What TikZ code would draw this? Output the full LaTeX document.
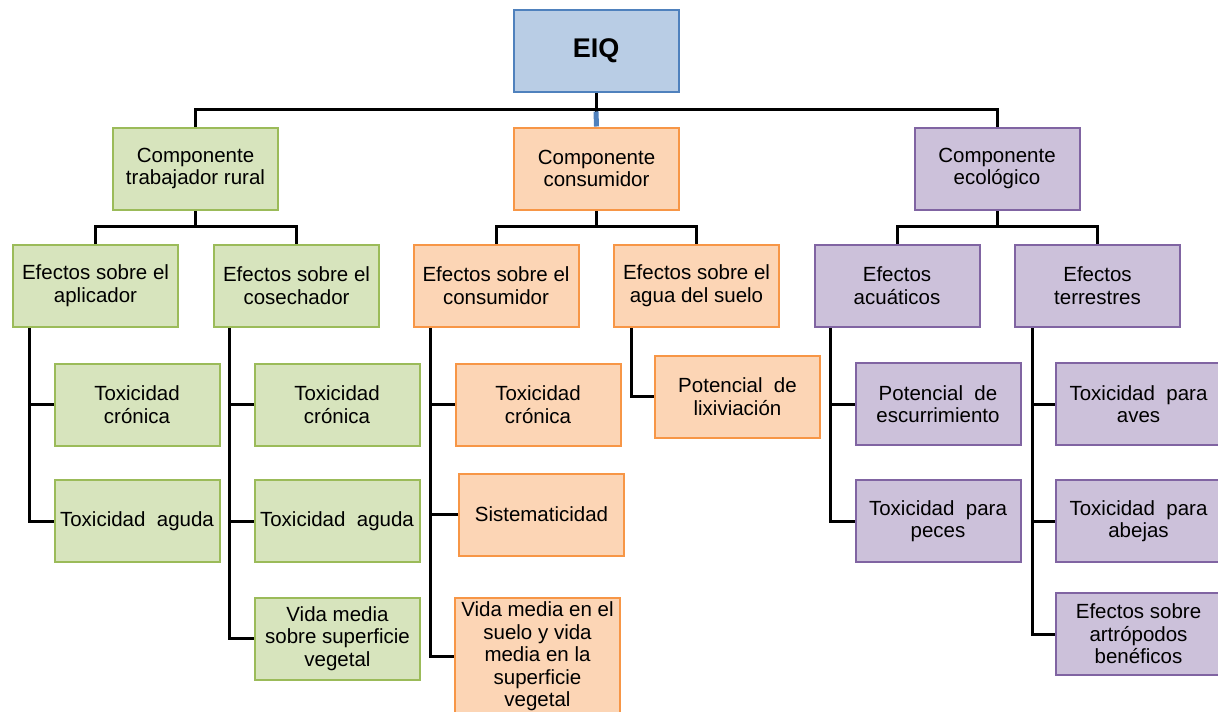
\documentclass[tikz,border=0pt]{standalone}
\usepackage{fontspec}
\setmainfont{Liberation Sans}
\usetikzlibrary{backgrounds}
\definecolor{gfill}{HTML}{D7E4BD}
\definecolor{gdraw}{HTML}{9BBB59}
\definecolor{ofill}{HTML}{FCD5B5}
\definecolor{odraw}{HTML}{F79646}
\definecolor{pfill}{HTML}{CCC1DA}
\definecolor{pdraw}{HTML}{8064A2}
\definecolor{bfill}{HTML}{B9CDE5}
\definecolor{bdraw}{HTML}{4F81BD}
\begin{document}
\begin{tikzpicture}[x=1pt,y=-1pt,
  box/.style={draw, line width=2pt, minimum width=165pt, minimum height=82pt, inner sep=0pt, align=center,
    font=\fontsize{20.5}{22.5}\selectfont},
  gbox/.style={box, fill=gfill, draw=gdraw},
  obox/.style={box, fill=ofill, draw=odraw},
  pbox/.style={box, fill=pfill, draw=pdraw},
  bbox/.style={box, fill=bfill, draw=bdraw, font=\fontsize{27}{30}\selectfont\bfseries},
  conn/.style={draw=black, line width=3pt},
  bconn/.style={draw=bdraw, line width=5pt}]
\useasboundingbox (0,0) rectangle (1218,712);

% nodes
\node[bbox] (eiq) at (596,50.5) {EIQ};

\node[gbox] (g) at (195.5,168.5) {Componente\\trabajador rural};
\node[obox] (o) at (596.5,168.5) {Componente\\consumidor};
\node[pbox] (p) at (997,168.5) {Componente\\ecológico};

\node[gbox] (ga) at (95.5,285.5) {Efectos sobre el\\aplicador};
\node[gbox] (gc) at (296.5,285.5) {Efectos sobre el\\cosechador};
\node[obox] (oc) at (496,285.5) {Efectos sobre el\\consumidor};
\node[obox] (oa) at (696.5,285.5) {Efectos sobre el\\agua del suelo};
\node[pbox] (pa) at (897,285.5) {Efectos\\acuáticos};
\node[pbox] (pt) at (1097.5,285.5) {Efectos\\terrestres};

\node[gbox] (ga1) at (137,404.5) {Toxicidad\\crónica};
\node[gbox] (ga2) at (137,521) {Toxicidad\ \ aguda};
\node[gbox] (gc1) at (337,404.5) {Toxicidad\\crónica};
\node[gbox] (gc2) at (337,521) {Toxicidad\ \ aguda};
\node[gbox] (gc3) at (337.5,638.5) {Vida media\\sobre superficie\\vegetal};

\node[obox] (oc1) at (538,404.5) {Toxicidad\\crónica};
\node[obox] (oc2) at (541.5,514.5) {Sistematicidad};
\node[obox, minimum height=117pt] (oc3) at (537.5,656.5) {Vida media en el\\suelo y vida\\media en la\\superficie\\vegetal};
\node[obox] (oa1) at (737.5,396.5) {Potencial\ \ de\\lixiviación};

\node[pbox] (pa1) at (938,404) {Potencial\ \ de\\escurrimiento};
\node[pbox] (pa2) at (938,521) {Toxicidad\ \ para\\peces};
\node[pbox] (pt1) at (1138.5,404) {Toxicidad\ \ para\\aves};
\node[pbox] (pt2) at (1138.5,521) {Toxicidad\ \ para\\abejas};
\node[pbox] (pt3) at (1138.5,634) {Efectos sobre\\artrópodos\\benéficos};

% connectors
\begin{scope}[on background layer]
\fill[white] (0,0) rectangle (1218,712);
\draw[conn] (g.north) -- ++(0,-17.5) -| (p.north);
\draw[conn] (eiq.south) -- ++(0,19) coordinate (j);
\draw[bconn] (j) -- (o.north);

\draw[conn] (ga.north) -- ++(0,-17) -| (gc.north);
\draw[conn] (g.south) -- ++(0,17);
\draw[conn] (oc.north) -- ++(0,-17) -| (oa.north);
\draw[conn] (o.south) -- ++(0,17);
\draw[conn] (pa.north) -- ++(0,-17) -| (pt.north);
\draw[conn] (p.south) -- ++(0,17);

\draw[conn] ([xshift=17pt]ga.south west) |- (ga1.west);
\draw[conn] ([xshift=17pt]ga.south west) |- (ga2.west);
\draw[conn] ([xshift=16pt]gc.south west) |- (gc1.west);
\draw[conn] ([xshift=16pt]gc.south west) |- (gc2.west);
\draw[conn] ([xshift=16pt]gc.south west) |- (gc3.west);

\draw[conn] ([xshift=18pt]oc.south west) |- (oc1.west);
\draw[conn] ([xshift=18pt]oc.south west) |- (oc2.west);
\draw[conn] ([xshift=18pt]oc.south west) |- (oc3.west);
\draw[conn] ([xshift=18pt]oa.south west) |- (oa1.west);

\draw[conn] ([xshift=17pt]pa.south west) |- (pa1.west);
\draw[conn] ([xshift=17pt]pa.south west) |- (pa2.west);
\draw[conn] ([xshift=18pt]pt.south west) |- (pt1.west);
\draw[conn] ([xshift=18pt]pt.south west) |- (pt2.west);
\draw[conn] ([xshift=18pt]pt.south west) |- (pt3.west);
\end{scope}
\end{tikzpicture}
\end{document}
